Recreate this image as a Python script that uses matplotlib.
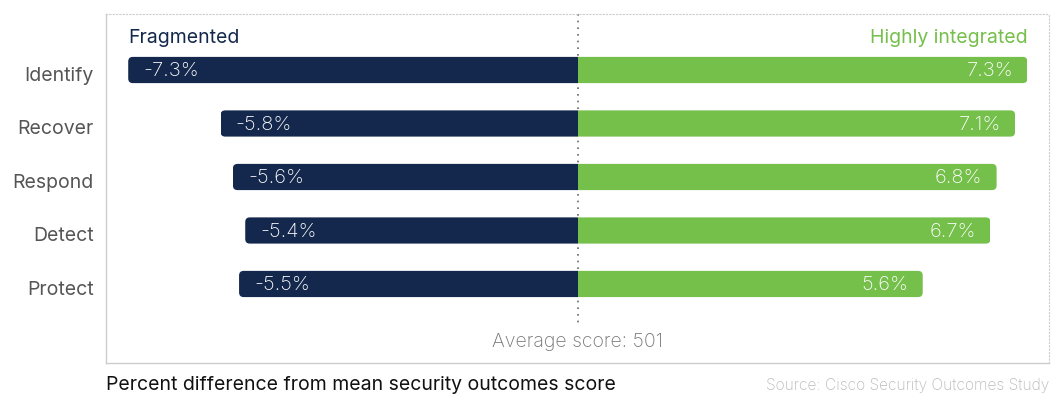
import matplotlib
matplotlib.use("Agg")
import matplotlib.pyplot as plt
import matplotlib.transforms as mtransforms
from matplotlib.patches import FancyBboxPatch, Rectangle

plt.rcParams['font.family'] = ['Inter', 'DejaVu Sans']

categories = ["Identify", "Recover", "Respond", "Detect", "Protect"]
fragmented = [-7.3, -5.8, -5.6, -5.4, -5.5]
integrated = [7.3, 7.1, 6.8, 6.7, 5.6]
series_names = ["Fragmented", "Highly integrated"]
average_label = "Average score: 501"

NAVY = "#13284C"
GREEN = "#75BF4B"
BAR_H = 0.49
FS = 14

fig = plt.figure(figsize=(10.52, 3.94), dpi=100)
ax = fig.add_axes([0.1008, 0.0787, 0.8963, 0.8858])
ax.set_xlim(-7.66, 7.65)
ax.set_ylim(5.477, -1.047)

def rounded_bar(y, v, color):
    # rounded bar that runs past zero, clipped at zero so the inner end is square
    ext = 0.3
    x0 = min(-ext if v > 0 else v, 0)
    x1 = max(v, ext if v < 0 else 0)
    p = FancyBboxPatch((x0, y - BAR_H / 2), x1 - x0, BAR_H,
                       boxstyle="round,pad=0,rounding_size=0.075",
                       mutation_aspect=1.15, linewidth=0,
                       facecolor=color, zorder=2)
    ax.add_patch(p)
    clip = Rectangle((min(0, v), y - BAR_H), abs(v), 2 * BAR_H,
                     transform=ax.transData)
    p.set_clip_path(clip)

for i, (f, g) in enumerate(zip(fragmented, integrated)):
    rounded_bar(i, f, NAVY)
    rounded_bar(i, g, GREEN)
    ax.text(f + 0.245, i + 0.02, f"-{abs(f):.1f}%", color="white", fontsize=14.5,
            fontweight="light", va="center", ha="left", zorder=3)
    ax.text(g - 0.23, i + 0.02, f"{g:.1f}%", color="white", fontsize=14.5,
            fontweight="light", va="center", ha="right", zorder=3)

ax.set_yticks(range(len(categories)))
ax.set_yticklabels(categories, fontsize=FS, color="#555555")
ax.tick_params(axis="y", length=0, pad=9)
ax.set_xticks([])
# category names sit a little below the bar centres
shift = mtransforms.ScaledTranslation(0, -0.04, fig.dpi_scale_trans)
for lbl in ax.get_yticklabels():
    lbl.set_transform(lbl.get_transform() + shift)

ax.text(fragmented[0], -0.6, series_names[0], color=NAVY, fontsize=FS,
        ha="left", va="center")
ax.text(integrated[0], -0.6, series_names[1], color=GREEN, fontsize=FS,
        ha="right", va="center")

ax.plot([0, 0], [-1.047, 4.8], color="#666666", linestyle=(0, (1, 3)),
        linewidth=1.2, zorder=1)
ax.text(0, 5.08, average_label, color="#777777", fontsize=FS,
        fontweight="light", ha="center", va="center")

for side in ("left", "bottom"):
    ax.spines[side].set_color("#cccccc")
    ax.spines[side].set_linewidth(1)
for side in ("top", "right"):
    ax.spines[side].set_color("#cccccc")
    ax.spines[side].set_linestyle((0, (1, 2)))
    ax.spines[side].set_linewidth(0.8)

fig.text(0.1008, 0.022, "Percent difference from mean security outcomes score",
         fontsize=FS, color="#111111", ha="left", va="center")
fig.text(0.997, 0.022, "Source: Cisco Security Outcomes Study",
         fontsize=11.2, color="#bbbbbb", fontweight="light",
         ha="right", va="center")

fig.savefig("out.png", dpi=100)
